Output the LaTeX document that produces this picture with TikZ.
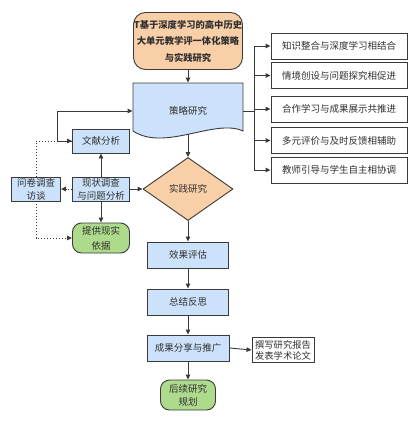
\documentclass[tikz,border=0pt]{standalone}
\usepackage{fontspec}
\setmainfont{Noto Sans CJK SC}
\usetikzlibrary{arrows.meta,shapes.geometric}
\definecolor{bfill}{HTML}{CCE2FA}
\definecolor{gfill}{HTML}{AEDA8C}
\definecolor{pfill}{HTML}{F9CFA8}
\definecolor{edge}{HTML}{3A3A3A}
\definecolor{txt}{HTML}{303030}
\tikzset{
  base/.style={draw=edge,line width=0.9pt,inner sep=0pt,align=center,text=txt,font=\fontsize{9.5}{13}\selectfont},
  bluebox/.style={base,fill=bfill,minimum width=#1,minimum height=26},
  greenbox/.style={base,fill=gfill,rounded corners=9pt,minimum width=#1,minimum height=30},
  whitebox/.style={base,fill=white,minimum width=136,minimum height=26},
  arr/.style={draw=edge,line width=0.9pt,-{Triangle[length=5pt,width=4.5pt]}},
  ln/.style={draw=edge,line width=0.9pt},
  dotarr/.style={draw=edge,line width=1pt,dotted,-{Triangle[length=5pt,width=4.5pt]}},
}
\begin{document}
\begin{tikzpicture}[x=1pt,y=-1pt]
\useasboundingbox (0,0) rectangle (419,426);
% title
\node[base,fill=pfill,rounded corners=12pt,minimum width=109,minimum height=57,font=\fontsize{9.3}{16.5}\selectfont\bfseries] (title) at (188,41) {T基于深度学习的高中历史\\大单元教学评一体化策略\\与实践研究};
% document shape
\path[ln,fill=bfill] (133,83) -- (243,83) -- (243,131) .. controls (215,118) and (165,152) .. (133,131) -- cycle;
\node[base,draw=none,minimum width=110,minimum height=56] (doc) at (188,111) {策略研究};
\coordinate (docb) at (188,134);
% diamond
\node[base,diamond,fill=pfill,minimum width=90,minimum height=63] (prac) at (188,189) {实践研究};
% main chain
\node[bluebox=81] (eval) at (188,255) {效果评估};
\node[bluebox=81] (sum) at (188,302) {总结反思};
\node[bluebox=82] (share) at (188,348) {成果分享与推广};
\node[greenbox=55,font=\fontsize{9.5}{13}\selectfont] (follow) at (188,395) {后续研究\\规划};
\node[base,fill=white,minimum width=62,minimum height=25,font=\fontsize{9.3}{11}\selectfont] (write) at (283,350) {撰写研究报告\\发表学术论文};
% left side
\node[bluebox=57,minimum height=24] (lit) at (101,141) {文献分析};
\node[bluebox=57,minimum height=24] (cur) at (101,189) {现状调查\\与问题分析};
\node[bluebox=49,minimum height=24] (ques) at (36,189) {问卷调查\\访谈};
\node[greenbox=57,font=\fontsize{9.5}{15}\selectfont] (basis) at (101,238) {提供现实\\依据};
% right boxes
\node[whitebox] (k1) at (339,46) {知识整合与深度学习相结合};
\node[whitebox] (k2) at (339,75.5) {情境创设与问题探究相促进};
\node[whitebox] (k3) at (339,109) {合作学习与成果展示共推进};
\node[whitebox] (k4) at (339,140.5) {多元评价与及时反馈相辅助};
\node[whitebox] (k5) at (339,170) {教师引导与学生自主相协调};
% connectors
\draw[arr] (title.south) -- (doc.north);
\draw[arr] (docb) -- (prac.north);
\draw[arr] (prac.south) -- (eval.north);
\draw[arr] (eval.south) -- (sum.north);
\draw[arr] (sum.south) -- (share.north);
\draw[arr] (share.south) -- (follow.north);
\draw[arr] (share.east) -- (write.west);
\coordinate (bus) at (254,111);
\draw[ln] (doc.east) -- (bus);
\foreach \k in {k1,k2,k3,k4,k5} \draw[arr] (bus) |- (\k.west);
\draw[dotarr] (ques.north) |- (lit.west);
\draw[arr] (lit.west) -- ++(-15,0) |- (doc.west);
\draw[arr] (cur.north) -- (lit.south);
\draw[dotarr] (cur.west) -- (ques.east);
\draw[arr] (cur.south) -- (basis.north);
\draw[dotarr] (ques.south) |- (basis.west);
\draw[arr] (cur.east) -- (prac.west);
\end{tikzpicture}
\end{document}
